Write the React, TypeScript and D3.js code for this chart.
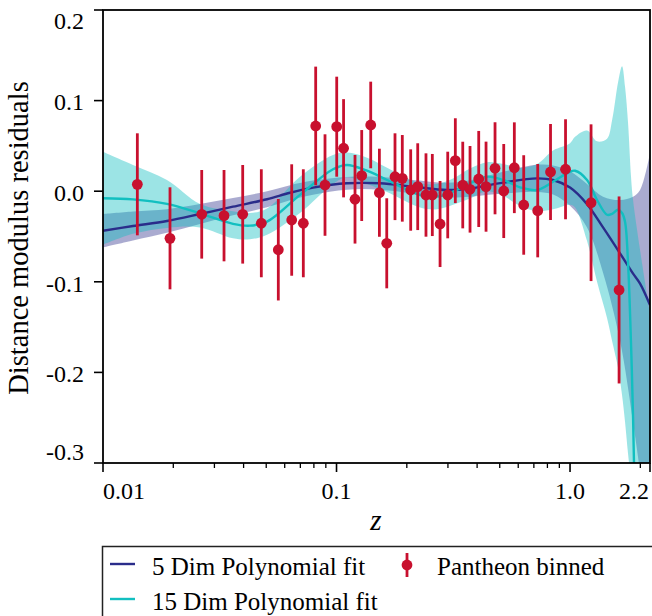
import React from "react";
import * as d3 from "d3";

// Pantheon binned residuals
const binZ = [0.01403, 0.01936, 0.02647, 0.03298, 0.03965, 0.04764, 0.05633, 0.06428, 0.07208, 0.08143, 0.08927, 0.1002, 0.1072, 0.12, 0.1282, 0.1401, 0.1526, 0.1641, 0.178, 0.1913, 0.2078, 0.2227, 0.2416, 0.2572, 0.2776, 0.2994, 0.3227, 0.3472, 0.373, 0.4064, 0.4368, 0.4773, 0.5201, 0.5774, 0.6333, 0.7271, 0.825, 0.9566, 1.2302, 1.6218];
const binMu = [0.0076, -0.052, -0.0255, -0.027, -0.0255, -0.0354, -0.0646, -0.0318, -0.0354, 0.072, 0.0068, 0.0712, 0.0474, -0.0089, 0.0173, 0.0731, -0.0017, -0.0575, 0.016, 0.0142, 0.0013, 0.005, -0.0042, -0.0042, -0.0362, -0.0042, 0.0337, 0.0068, 0.0021, 0.0135, 0.005, 0.0253, 0.0002, 0.0259, -0.0152, -0.0215, 0.0212, 0.0242, -0.0127, -0.109];
const binErr = [0.0563, 0.0563, 0.0489, 0.0504, 0.0544, 0.0596, 0.056, 0.0615, 0.0596, 0.0655, 0.056, 0.0552, 0.0542, 0.0489, 0.0502, 0.0478, 0.0486, 0.0497, 0.0479, 0.0478, 0.0449, 0.0479, 0.046, 0.0453, 0.0475, 0.0478, 0.0468, 0.0478, 0.0478, 0.053, 0.0497, 0.0508, 0.0519, 0.0501, 0.0549, 0.0515, 0.053, 0.0552, 0.0865, 0.1032];

// 5 Dim polynomial fit (mean and band)
const fit5Z = [0.01, 0.01344, 0.01879, 0.02603, 0.03603, 0.0504, 0.06324, 0.07933, 0.1109, 0.1536, 0.2127, 0.2973, 0.3731, 0.5165, 0.7222, 0.8458, 1.0, 1.1826, 1.3846, 1.6372, 1.8617, 1.9945, 2.2];
const fit5Mid = [-0.0436, -0.0384, -0.0329, -0.0252, -0.0171, -0.0089, -0.0017, 0.0039, 0.0087, 0.0087, 0.005, 0.0013, 0.003, 0.0094, 0.0142, 0.0124, 0.004, -0.0143, -0.04, -0.0686, -0.091, -0.102, -0.1256];
const fit5Lo = [-0.062, -0.0544, -0.0459, -0.0362, -0.0266, -0.0177, -0.01, -0.0039, 0.0017, 0.0017, -0.0024, -0.0067, -0.006, -0.0026, -0.0008, -0.0036, -0.016, -0.04, -0.09, -0.165, -0.255, -0.31, -0.4];
const fit5Hi = [-0.0252, -0.0224, -0.0199, -0.0142, -0.0076, -0.0001, 0.0066, 0.0117, 0.0157, 0.0157, 0.0124, 0.0093, 0.012, 0.0214, 0.0292, 0.0284, 0.022, 0.008, -0.006, -0.0097, -0.006, 0.0013, 0.042];

// 15 Dim polynomial fit (mean and band)
const fit15Z = [0.01, 0.01344, 0.01879, 0.02603, 0.03603, 0.04262, 0.0504, 0.06977, 0.09661, 0.1109, 0.1351, 0.1646, 0.2279, 0.2694, 0.3155, 0.3731, 0.4411, 0.5165, 0.6107, 0.7222, 0.8458, 1.0, 1.0505, 1.1826, 1.3052, 1.4402, 1.513, 1.6052, 1.6698, 1.7205, 1.7722, 1.8254, 1.8617, 1.9945, 2.2];
const fit15Mid = [-0.0078, -0.009, -0.014, -0.0245, -0.036, -0.038, -0.0336, -0.004, 0.0242, 0.029, 0.0226, 0.0124, -0.0042, -0.006, -0.0005, 0.0087, 0.016, 0.0124, 0.0043, 0.0013, 0.0105, 0.0215, 0.0226, 0.0124, -0.0097, -0.026, -0.025, -0.0205, -0.024, -0.034, -0.08, -0.17, -0.25, -0.6, -0.9];
const fit15Lo = [-0.059, -0.047, -0.0405, -0.04, -0.052, -0.053, -0.048, -0.024, 0.008, 0.0154, 0.008, -0.001, -0.018, -0.02, -0.015, -0.008, 0.0, -0.005, -0.016, -0.022, -0.02, -0.015, -0.018, -0.055, -0.1, -0.14, -0.165, -0.195, -0.225, -0.255, -0.29, -0.32, -0.34, -0.42, -0.55];
const fit15Hi = [0.0436, 0.029, 0.0125, -0.014, -0.022, -0.024, -0.019, 0.016, 0.04, 0.0426, 0.037, 0.026, 0.009, 0.008, 0.014, 0.025, 0.032, 0.03, 0.026, 0.03, 0.045, 0.053, 0.06, 0.067, 0.055, 0.058, 0.078, 0.12, 0.138, 0.115, 0.075, 0.015, -0.01, -0.065, -0.135];

const yTickValues = [-0.3, -0.2, -0.1, 0.0, 0.1, 0.2];
const yTickLabels = ["-0.3", "-0.2", "-0.1", "0.0", "0.1", "0.2"];
const xTickValues = [0.01, 0.1, 1.0, 2.2];
const xTickLabels = ["0.01", "0.1", "1.0", "2.2"];
const xMinorTicks = [0.02, 0.03, 0.04, 0.05, 0.06, 0.07, 0.08, 0.09, 0.2, 0.3, 0.4, 0.5, 0.6, 0.7, 0.8, 0.9, 2.0];
const legendLabels = ["5 Dim Polynomial fit", "15 Dim Polynomial fit", "Pantheon binned"];

const NAVY = "#2a2c8a";
const CYAN = "#12bfc0";
const RED = "#c8102e";
const FONT = "'Liberation Serif', 'Times New Roman', serif";

export default function App() {
  const L = 103, R = 650, T = 10, B = 463;
  const x = d3.scaleLog().domain([0.01, 2.2]).range([L, R]);
  const y = d3.scaleLinear().domain([-0.3, 0.2]).range([B, T]);

  const curve = d3.curveCatmullRom.alpha(0.5);
  const band = (zs: number[], lo: number[], hi: number[]) =>
    d3.area<number>().x((i) => x(zs[i])).y0((i) => y(lo[i])).y1((i) => y(hi[i])).curve(curve)(zs.map((_, i) => i)) || "";
  const line = (zs: number[], mid: number[]) =>
    d3.line<number>().x((i) => x(zs[i])).y((i) => y(mid[i])).curve(curve)(zs.map((_, i) => i)) || "";

  return (
    <svg width={652} height={616} style={{ position: "absolute", left: 0, top: 0, background: "#fff" }} fontFamily={FONT}>
      <defs>
        <clipPath id="plot">
          <rect x={L} y={T} width={R - L} height={B - T} />
        </clipPath>
      </defs>
      <g clipPath="url(#plot)">
        <path d={band(fit5Z, fit5Lo, fit5Hi)} fill={NAVY} fillOpacity={0.4} />
        <path d={band(fit15Z, fit15Lo, fit15Hi)} fill={CYAN} fillOpacity={0.42} />
        <path d={line(fit5Z, fit5Mid)} fill="none" stroke={NAVY} strokeWidth={2.4} />
        <path d={line(fit15Z, fit15Mid)} fill="none" stroke={CYAN} strokeWidth={2.4} />
        {binZ.map((z, i) => (
          <g key={i}>
            <line x1={x(z)} x2={x(z)} y1={y(binMu[i] - binErr[i])} y2={y(binMu[i] + binErr[i])} stroke={RED} strokeWidth={2.8} />
            <circle cx={x(z)} cy={y(binMu[i])} r={5.4} fill={RED} />
          </g>
        ))}
      </g>
      {/* frame */}
      <rect x={L} y={T} width={R - L} height={B - T} fill="none" stroke="#000" strokeWidth={1.8} />
      {/* y ticks */}
      {yTickValues.map((v, i) => {
        const yy = y(v);
        let ty = yy + 1.7;
        if (i === yTickValues.length - 1) ty = yy + 11;
        if (i === 0) ty = yy - 11.5;
        return (
          <g key={"y" + i}>
            <line x1={L - 9} x2={L} y1={yy} y2={yy} stroke="#000" strokeWidth={1.6} />
            <text x={84} y={ty} textAnchor="end" dominantBaseline="central" fontSize={24}>{yTickLabels[i]}</text>
          </g>
        );
      })}
      {/* x ticks */}
      {xMinorTicks.map((v, i) => (
        <line key={"m" + i} x1={x(v)} x2={x(v)} y1={B} y2={B + 5} stroke="#000" strokeWidth={1.3} />
      ))}
      {xTickValues.map((v, i) => {
        const xx = x(v);
        const anchor = i === 0 ? "start" : i === xTickValues.length - 1 ? "end" : "middle";
        return (
          <g key={"x" + i}>
            <line x1={xx} x2={xx} y1={B} y2={B + 9} stroke="#000" strokeWidth={1.6} />
            <text x={i === xTickValues.length - 1 ? xx - 1 : xx} y={499} textAnchor={anchor} fontSize={24}>{xTickLabels[i]}</text>
          </g>
        );
      })}
      {/* axis labels */}
      <text x={376} y={530} textAnchor="middle" fontSize={29} fontStyle="italic">z</text>
      <text transform="translate(28,238) rotate(-90)" textAnchor="middle" fontSize={28.5}>Distance modulus residuals</text>
      {/* legend */}
      <rect x={102.5} y={546.5} width={570} height={100} fill="#fff" stroke="#222" strokeWidth={1.5} />
      <line x1={110} x2={135} y1={564} y2={564} stroke={NAVY} strokeWidth={2.4} />
      <text x={152} y={575} fontSize={25}>{legendLabels[0]}</text>
      <line x1={110} x2={135} y1={599} y2={599} stroke={CYAN} strokeWidth={2.4} />
      <text x={152} y={610} fontSize={25}>{legendLabels[1]}</text>
      <line x1={407} x2={407} y1={553} y2={577} stroke={RED} strokeWidth={2.8} />
      <circle cx={407} cy={565} r={5.4} fill={RED} />
      <text x={437} y={575} fontSize={25}>{legendLabels[2]}</text>
    </svg>
  );
}
